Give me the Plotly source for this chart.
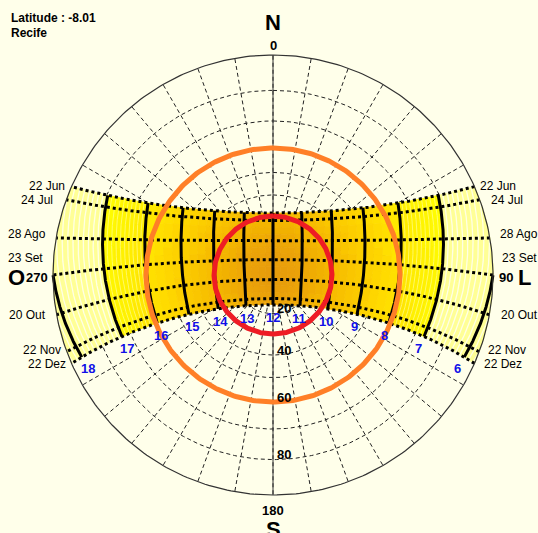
import numpy as np
import plotly.graph_objects as go

# ---------------- data ----------------
latitude = -8.01
city = "Recife"
date_labels = ["22 Jun", "24 Jul", "28 Ago", "23 Set", "20 Out", "22 Nov", "22 Dez"]
declinations = [23.44, 19.8, 9.6, 0.0, -10.3, -20.2, -23.44]
hours = [6, 7, 8, 9, 10, 11, 12, 13, 14, 15, 16, 17, 18]
zenith_ticks = [20, 40, 60, 80]
grid_altitudes = [10, 20, 40, 50, 70, 80]
grid_azimuths = list(range(0, 360, 10))
ring_altitudes = [30, 60]

# ---------------- style / geometry ----------------
W, H = 538, 533
CX, CY, RPX = 273, 275, 220
BG = "#FFFFEA"
FONT = "Arial, Liberation Sans, sans-serif"
ring_colors = ["#FF7F27", "#EE1C24"]
HOUR_LABEL_GAP = 13  # px
# per-label pixel offsets (west xshift, east xshift, yshift)
lab_west_dx = [-5, -11, -8, -8, -9, -4, -4]
lab_east_dx = [4, 9, 8, 7, 10, 7, 8]
lab_dy = [1, 0, 4, 17, 0, 2, -1]

phi = np.radians(latitude)


def sun(hour, dec):
    Hr = np.radians(15.0 * (np.asarray(hour, dtype=float) - 12.0))
    d = np.radians(np.asarray(dec, dtype=float))
    s = np.sin(phi) * np.sin(d) + np.cos(phi) * np.cos(d) * np.cos(Hr)
    alt = np.degrees(np.arcsin(np.clip(s, -1, 1)))
    sA = -np.cos(d) * np.sin(Hr)
    cA = np.sin(d) * np.cos(phi) - np.cos(d) * np.cos(Hr) * np.sin(phi)
    az = np.degrees(np.arctan2(sA, cA))
    return alt, az


def proj(alt, az):
    r = np.tan(np.radians((90.0 - np.asarray(alt, dtype=float)) / 2.0))
    a = np.radians(az)
    return r * np.sin(a), r * np.cos(a)


fig = go.Figure()


def add_line(x, y, color, width, dash=None, opacity=1.0):
    fig.add_trace(go.Scatter(x=list(x), y=list(y), mode="lines",
                             line=dict(color=color, width=width, dash=dash),
                             opacity=opacity, hoverinfo="skip", showlegend=False))


# ---------- dashed grid ----------
th = np.linspace(0, 360, 361)
gx, gy = [], []
for a in grid_altitudes:
    x, y = proj(np.full_like(th, a), th)
    gx += list(x) + [None]
    gy += list(y) + [None]
for az in grid_azimuths:
    x, y = proj([80, 0], [az, az])
    gx += list(x) + [None]
    gy += list(y) + [None]
add_line(gx, gy, "#222222", 1, dash="4px,3px")

# N-S axis
x, y = proj([0, 0], [0, 180])
add_line(x, y, "#333333", 1)

# ---------- band fill ----------
stops_alt = [10, 25, 35, 45, 55, 65, 75, 90]
stops_rgb = np.array([(255, 255, 0), (255, 236, 0), (255, 220, 0), (252, 206, 0),
                      (248, 192, 0), (242, 178, 0), (236, 164, 8), (230, 154, 12)], float)


def alt_color(a):
    a = round(a / 3.0) * 3.0
    rgb = [np.interp(a, stops_alt, stops_rgb[:, k]) for k in range(3)]
    return "rgb(%d,%d,%d)" % tuple(int(round(v)) for v in rgb)


PALE = "rgb(255,255,150)"
groups = {}
h_edges = np.arange(5.5, 18.5001, 0.25)
d_edges = []
for i in range(len(declinations) - 1):
    sub = np.linspace(declinations[i], declinations[i + 1], 4)
    d_edges += list(sub[:-1])
d_edges.append(declinations[-1])
n = 4
for i in range(len(h_edges) - 1):
    h1, h2 = h_edges[i], h_edges[i + 1]
    hc = 0.5 * (h1 + h2)
    for j in range(len(d_edges) - 1):
        d1, d2 = d_edges[j], d_edges[j + 1]
        ca, _ = sun([h1, h2, h1, h2], [d1, d1, d2, d2])
        if ca.max() <= 0:
            continue
        hs = np.linspace(h1, h2, n)
        ds = np.linspace(d1, d2, n)
        HH = np.concatenate([hs, np.full(n, h2), hs[::-1], np.full(n, h1)])
        DD = np.concatenate([np.full(n, d1), ds, np.full(n, d2), ds[::-1]])
        alt, az = sun(HH, DD)
        alt = np.maximum(alt, 0)
        px, py = proj(alt, az)
        if hc < 7 or hc > 17:
            col = PALE
        else:
            cen, _ = sun(hc, 0.5 * (d1 + d2))
            col = alt_color(float(cen))
        gxs, gys = groups.setdefault(col, ([], []))
        gxs += list(px) + [None]
        gys += list(py) + [None]
for col, (xs, ys) in groups.items():
    fig.add_trace(go.Scatter(x=xs, y=ys, mode="lines", fill="toself", fillcolor=col,
                             line=dict(color=col, width=0.8), hoverinfo="skip",
                             showlegend=False))


def hour_curve(h, npts=300):
    ds = np.linspace(declinations[-1], declinations[0], npts)
    alt, az = sun(np.full(npts, h), ds)
    m = alt >= 0
    return proj(alt[m], az[m])


# stripes texture
sx, sy = [], []
for h in list(np.arange(5.6, 6.95, 0.1)) + list(np.arange(17.1, 18.45, 0.1)):
    if abs(h - round(h)) < 1e-6:
        continue
    x, y = hour_curve(h)
    sx += list(x) + [None]
    sy += list(y) + [None]
add_line(sx, sy, "white", 1.3, opacity=0.75)
sx, sy = [], []
for h in list(np.arange(7.1, 7.95, 0.1)) + list(np.arange(16.1, 16.95, 0.1)):
    x, y = hour_curve(h)
    sx += list(x) + [None]
    sy += list(y) + [None]
add_line(sx, sy, "rgb(255,255,170)", 1.0, opacity=0.6)

# ---------- date curves (dotted) ----------
ends = []
for dec in declinations:
    H0 = np.degrees(np.arccos(np.clip(-np.tan(phi) * np.tan(np.radians(dec)), -1, 1))) / 15.0
    hs = np.linspace(12 - H0, 12 + H0, 400)
    alt, az = sun(hs, np.full_like(hs, dec))
    alt = np.maximum(alt, 0)
    x, y = proj(alt, az)
    add_line(x, y, "black", 3, dash="dot")
    ends.append(((x[-1], y[-1]), (x[0], y[0])))  # (west, east)

# ---------- hour lines ----------
for h in hours:
    x, y = hour_curve(h)
    add_line(x, y, "black", 3)

# outer circle
x, y = proj(np.zeros_like(th), th)
add_line(x, y, "#333333", 1.2)

# altitude rings
for a, c in zip(ring_altitudes, ring_colors):
    x, y = proj(np.full_like(th, a), th)
    add_line(x, y, c, 5)

# ---------- annotations ----------
ann = []


def txt(x, y, s, size=12, color="black", bold=False, xanchor="center", xshift=0, yshift=0):
    ann.append(dict(x=x, y=y, text=("<b>%s</b>" % s) if bold else s, showarrow=False,
                    font=dict(family=FONT, size=size, color=color), xanchor=xanchor,
                    yanchor="middle", xshift=xshift, yshift=yshift))


def pix(px, py):
    return (px - CX) / RPX, (CY - py) / RPX


# hour labels (blue): just past the 22 Dez end of each hour line
for h in hours:
    a0, z0 = sun(h, declinations[-1])
    a1, z1 = sun(h, declinations[-1] - 1.0)
    x0, y0 = proj(max(float(a0), 0), z0)
    x1, y1 = proj(max(float(a1), 0), z1)
    dx, dy = x1 - x0, y1 - y0
    L = np.hypot(dx, dy)
    g = HOUR_LABEL_GAP / RPX
    txt(float(x0 + g * dx / L), float(y0 + g * dy / L), str(h), size=13,
        color="#1010E8", bold=True)

# date labels
for k, lab in enumerate(date_labels):
    (wx, wy), (ex, ey) = ends[k]
    txt(wx, wy, lab, xanchor="right", xshift=lab_west_dx[k], yshift=lab_dy[k])
    txt(ex, ey, lab, xanchor="left", xshift=lab_east_dx[k], yshift=lab_dy[k])

# zenith tick labels along south axis
for zt in zenith_ticks:
    r = np.tan(np.radians(zt / 2.0))
    txt(0, -r, str(zt), size=13, bold=True, xanchor="left", xshift=2, yshift=5)

# cardinal points
x, y = pix(273, 22); txt(x, y, "N", size=22, bold=True)
x, y = pix(273, 45); txt(x, y, "0", size=13, bold=True)
x, y = pix(273, 510); txt(x, y, "180", size=13, bold=True)
x, y = pix(273, 529); txt(x, y, "S", size=22, bold=True)
x, y = pix(16, 277); txt(x, y, "O", size=22, bold=True)
x, y = pix(37, 277); txt(x, y, "270", size=13, bold=True)
x, y = pix(506, 277); txt(x, y, "90", size=13, bold=True)
x, y = pix(524, 277); txt(x, y, "L", size=22, bold=True)

# title block
x, y = pix(9, 18); txt(x, y, "Latitude : %.2f" % latitude, size=12, bold=True, xanchor="left")
x, y = pix(9, 33); txt(x, y, city, size=12, bold=True, xanchor="left")

fig.update_layout(
    width=W, height=H, margin=dict(l=0, r=0, t=0, b=0),
    paper_bgcolor=BG, plot_bgcolor=BG, showlegend=False,
    xaxis=dict(range=[(0 - CX) / RPX, (W - CX) / RPX], visible=False, fixedrange=True),
    yaxis=dict(range=[(CY - H) / RPX, CY / RPX], visible=False, fixedrange=True),
    annotations=ann,
)
fig.write_html("out.html", config={"displayModeBar": False},
               post_script="document.body.style.margin='0';document.body.style.background='%s';" % BG)
